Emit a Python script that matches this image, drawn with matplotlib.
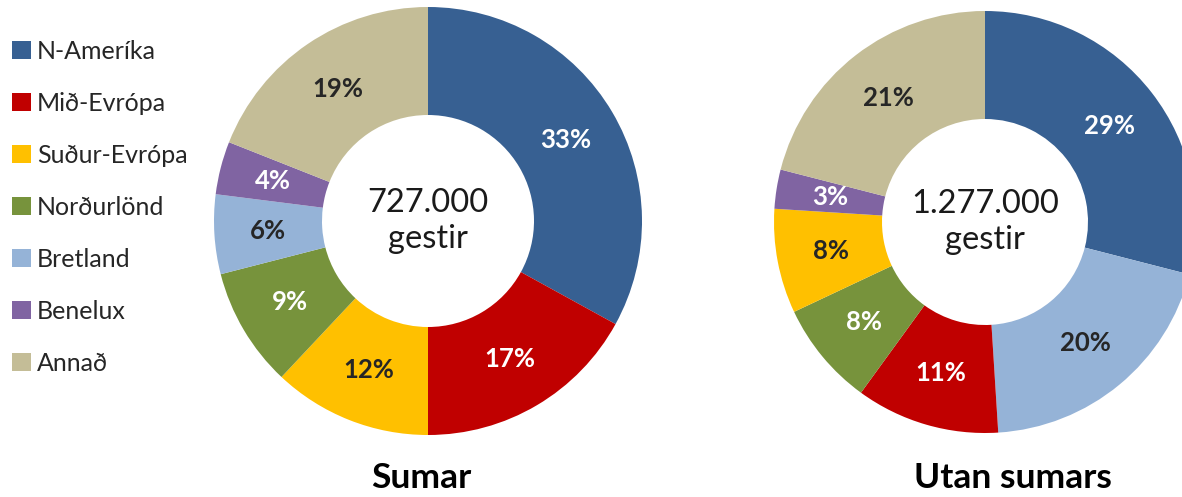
import matplotlib
matplotlib.use("Agg")
import matplotlib.pyplot as plt
from matplotlib.patches import Patch

plt.rcParams['font.family'] = ['Lato', 'DejaVu Sans']

# data
regions = ["N-Ameríka", "Mið-Evrópa", "Suður-Evrópa", "Norðurlönd", "Bretland", "Benelux", "Annað"]
colors = {"N-Ameríka": "#376092", "Mið-Evrópa": "#C00000", "Suður-Evrópa": "#FFC000",
          "Norðurlönd": "#77933C", "Bretland": "#95B3D7", "Benelux": "#8064A2", "Annað": "#C4BD97"}
dark_text = {"Suður-Evrópa", "Bretland", "Annað"}

sumar_order = ["N-Ameríka", "Mið-Evrópa", "Suður-Evrópa", "Norðurlönd", "Bretland", "Benelux", "Annað"]
sumar_values = [33, 17, 12, 9, 6, 4, 19]
sumar_total = "727.000"

utan_order = ["N-Ameríka", "Bretland", "Mið-Evrópa", "Norðurlönd", "Suður-Evrópa", "Benelux", "Annað"]
utan_values = [29, 20, 11, 8, 8, 3, 21]
utan_total = "1.277.000"

W, H = 1182, 497
fig = plt.figure(figsize=(W / 100, H / 100), dpi=100)
ax = fig.add_axes([0, 0, 1, 1])


def donut(order, values, cx, cy, r, hole, total, title, title_x):
    wedges, texts, autotexts = ax.pie(
        values, colors=[colors[o] for o in order], startangle=90, counterclock=False,
        center=(cx, H - cy), radius=r, wedgeprops=dict(width=r - hole, linewidth=0),
        autopct=lambda p: f"{round(p)}%", pctdistance=(r + hole) / 2 / r,
        textprops=dict(fontsize=18.5, fontweight='bold'))
    for name, t in zip(order, autotexts):
        t.set_color("#262626" if name in dark_text else "white")
    ax.text(cx, H - cy, total + "\ngestir", ha='center', va='center', fontsize=23.5,
            color="#1a1a1a", linespacing=1.25)
    ax.text(title_x, H - 478, title, ha='center', va='center', fontsize=25.5,
            fontweight='bold', color='black')


donut(sumar_order, sumar_values, 428, 221, 214, 106, sumar_total, "Sumar", 421)
donut(utan_order, utan_values, 985, 222, 211, 103, utan_total, "Utan sumars", 1013)

ax.set_xlim(0, W)
ax.set_ylim(0, H)
ax.set_aspect('equal')
ax.axis('off')

handles = [Patch(facecolor=colors[r], edgecolor='none') for r in regions]
fig.legend(handles, regions, loc='upper left', bbox_to_anchor=(-0.009, 0.965), frameon=False,
           fontsize=18, labelspacing=1.16, handlelength=0.75, handleheight=0.75,
           handletextpad=0.25, labelcolor="#262626")

fig.savefig("out.png", dpi=100)
